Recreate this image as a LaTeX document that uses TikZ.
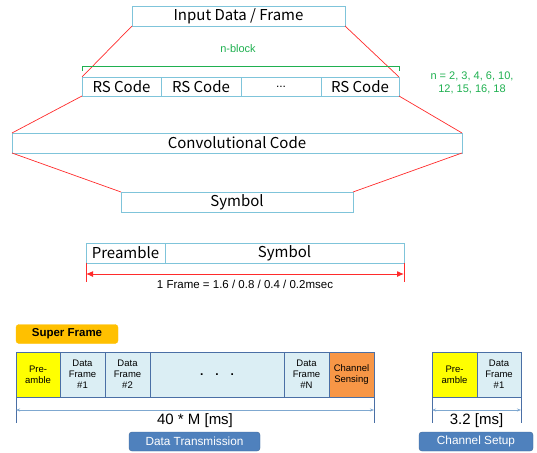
\documentclass[tikz,border=0pt]{standalone}
\usepackage{fontspec}
\setmainfont{Liberation Sans}
\newfontfamily\korfont{Noto Sans CJK KR}
\usetikzlibrary{arrows.meta, positioning}
\definecolor{boxcyan}{HTML}{7FC4DA}
\definecolor{linered}{HTML}{FF2B2B}
\definecolor{blockgreen}{HTML}{1FB050}
\definecolor{framefill}{HTML}{DBEEF4}
\definecolor{frameline}{HTML}{4A6FA5}
\definecolor{preyellow}{HTML}{FFFF00}
\definecolor{senseorange}{HTML}{F79646}
\definecolor{superorange}{HTML}{FFC000}
\definecolor{tagblue}{HTML}{4F81BD}
\definecolor{dimblue}{HTML}{7FA8D0}

\begin{document}
\begin{tikzpicture}[
    x=1pt, y=-1pt,
    >=Stealth,
    box/.style={draw=boxcyan, line width=0.9pt, inner sep=0pt, outer sep=0pt,
      anchor=north west, font=\korfont\fontsize{15}{16}\selectfont},
    link/.style={color=linered, line width=0.7pt},
    cell/.style={draw=frameline, line width=0.9pt, fill=#1, inner sep=0pt, outer sep=0pt,
      minimum height=45pt, anchor=north west, align=center, font=\fontsize{9.5}{11}\selectfont},
    tag/.style={draw=#1!80!black, fill=#1, rounded corners=3pt, inner sep=0pt,
      minimum height=19pt, font=\fontsize{11.8}{13}\selectfont},
    dimline/.style={color=dimblue, line width=0.6pt, {Stealth[length=4pt]}-{Stealth[length=4pt]}},
]
\useasboundingbox (0,0) rectangle (537,452);

% Coding chain
\node[box, minimum width=213, minimum height=20] (inp) at (132,6) {Input Data / Frame};
\foreach \x/\w/\t/\n in {82/79/{RS Code}/rs1, 161/80/{RS Code}/rs2, 241/80/{\rmfamily\fontsize{12}{12}\selectfont...}/rsd, 321/78/{RS Code}/rsn} {
    \node[box, minimum width=\w, minimum height=19] (\n) at (\x,77) {\t};
}
\node[box, minimum width=450, minimum height=20] (conv) at (12,133) {Convolutional Code};
\node[box, minimum width=232, minimum height=20] (sym) at (121,192) {Symbol};

\draw[link] (inp.south west) -- (rs1.north west);
\draw[link] (inp.south east) -- (rsn.north east);
\draw[link] (rs1.south west) -- (conv.north west);
\draw[link] (rsn.south east) -- (conv.north east);
\draw[link] (conv.south west) -- (sym.north west);
\draw[link] (conv.south east) -- (sym.north east);

% n-block bracket
\draw[blockgreen, line width=0.8pt] ([yshift=6pt]rs1.north west) -- ++(0,-5) -| ([yshift=6pt]rsn.north east);
\node[color=blockgreen, font=\fontsize{11}{12}\selectfont] (nblk) at (238,49) {n-block};
\node[color=blockgreen, align=center, font=\fontsize{11}{13}\selectfont] (nlist) at (472,83)
    {n = 2, 3, 4, 6, 10,\\12, 15, 16, 18};

% Frame
\node[box, minimum width=79, minimum height=20] (pre) at (86,243) {Preamble};
\node[box, minimum width=239, minimum height=20] (psym) at (165,243) {Symbol};
\draw[link] (pre.south west) -- ++(0,19);
\draw[link] (psym.south east) -- ++(0,19);
\draw[link, line width=1pt, {Latex[length=7pt,width=6pt]}-{Latex[length=7pt,width=6pt]}]
    ([yshift=-11pt]pre.south west) -- ([yshift=-11pt]psym.south east)
    node[midway, below=2pt, color=black, font=\fontsize{11.5}{13}\selectfont] (flen) {1 Frame = 1.6 / 0.8 / 0.4 / 0.2msec};

% Super frame
\node[tag=superorange, draw=superorange, minimum width=102, font=\bfseries\fontsize{11.5}{13}\selectfont] (sf) at (67,334) {Super Frame};
\foreach \x/\w/\c/\t/\n in {16/44/preyellow/{Pre-\\amble}/sp, 60/45/framefill/{Data\\Frame\\\#1}/d1,
    105/45/framefill/{Data\\Frame\\\#2}/d2, 150/134/framefill/{\bfseries\fontsize{12}{12}\selectfont.\quad.\quad.}/dd,
    284/45/framefill/{Data\\Frame\\\#N}/dn, 329/45/senseorange/{Channel\\Sensing}/cs,
    432/45/preyellow/{Pre-\\amble}/cp, 477/44/framefill/{Data\\Frame\\\#1}/c1} {
    \node[cell=\c, minimum width=\w] (\n) at (\x,352) {\t};
}

% Durations
\draw[frameline, line width=0.9pt] (sp.south west) -- ++(0,26);
\draw[frameline, line width=0.9pt] (cs.south east) -- ++(0,26);
\draw[dimline] ([yshift=-13pt]sp.south west) -- ([yshift=-13pt]cs.south east)
    node[midway, below=0pt, color=black, font=\fontsize{15}{16}\selectfont] (dlen) {40 * M [ms]};
\draw[frameline, line width=0.9pt] (cp.south west) -- ++(0,26);
\draw[frameline, line width=0.9pt] (c1.south east) -- ++(0,26);
\draw[dimline] ([yshift=-13pt]cp.south west) -- ([yshift=-13pt]c1.south east)
    node[midway, below=0pt, color=black, font=\fontsize{15}{16}\selectfont] (clen) {3.2 [ms]};

\node[tag=tagblue, minimum width=131, text=white] (dtx) at (194.5,441.5) {Data Transmission};
\node[tag=tagblue, minimum width=114, text=white] (csu) at (476,441.5) {Channel Setup};

\end{tikzpicture}
\end{document}
